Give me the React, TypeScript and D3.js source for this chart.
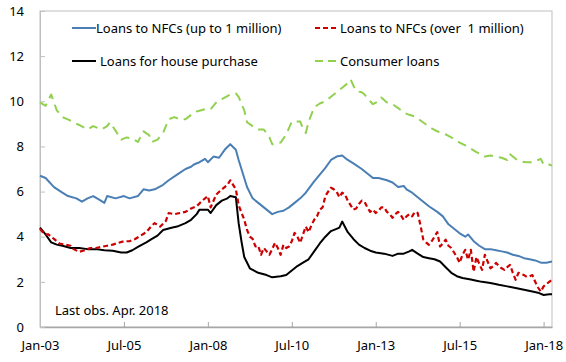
import * as d3 from "d3";
import React, { useEffect, useRef } from "react";

// months since Jan-03 and rates (%)
const smeMonths = [0, 2, 5, 8, 10, 13, 15, 17, 19, 21, 23, 24, 27, 30, 32, 35, 37, 39, 41, 44, 46, 49, 52, 54, 55, 57, 59, 60, 62, 64, 66, 68, 70, 71, 72, 74, 76, 78, 80, 83, 85, 87, 89, 91, 93, 95, 98, 100, 102, 104, 106, 108, 110, 112, 115, 117, 119, 121, 124, 126, 128, 130, 131, 133, 136, 139, 142, 144, 146, 148, 150, 152, 153, 155, 157, 159, 161, 163, 165, 167, 169, 171, 173, 175, 177, 179, 181, 183];
const smeValues = [6.7, 6.6, 6.2, 5.95, 5.8, 5.7, 5.55, 5.7, 5.8, 5.65, 5.5, 5.8, 5.7, 5.8, 5.7, 5.8, 6.1, 6.05, 6.1, 6.3, 6.5, 6.75, 7.0, 7.1, 7.2, 7.3, 7.45, 7.3, 7.55, 7.5, 7.85, 8.1, 7.85, 7.4, 7.0, 6.2, 5.7, 5.5, 5.3, 5.0, 5.1, 5.15, 5.3, 5.5, 5.7, 5.95, 6.45, 6.75, 7.05, 7.4, 7.55, 7.6, 7.4, 7.25, 7.0, 6.8, 6.6, 6.6, 6.5, 6.4, 6.2, 6.25, 6.1, 5.95, 5.65, 5.35, 5.1, 4.9, 4.55, 4.35, 4.15, 4.0, 4.1, 3.8, 3.6, 3.45, 3.45, 3.4, 3.35, 3.3, 3.2, 3.15, 3.05, 3.0, 2.95, 2.85, 2.85, 2.9];

const largeMonths = [0, 1, 2, 3, 5, 7, 9, 11, 12, 14, 16, 18, 20, 22, 24, 26, 28, 30, 32, 34, 36, 38, 40, 41, 43, 45, 46, 48, 50, 52, 54, 56, 58, 60, 61, 63, 65, 66, 67, 68, 70, 71, 73, 74, 75, 76, 77, 78, 79, 80, 81, 82, 83, 84, 85, 86, 87, 88, 89, 90, 91, 92, 93, 94, 95, 96, 97, 98, 99, 100, 101, 102, 103, 104, 105, 106, 107, 108, 109, 110, 111, 112, 113, 114, 115, 116, 117, 118, 119, 120, 121, 122, 123, 124, 125, 126, 127, 128, 129, 130, 131, 132, 133, 134, 135, 136, 137, 138, 139, 140, 141, 142, 143, 144, 145, 146, 147, 148, 149, 150, 151, 152, 153, 154, 155, 156, 157, 158, 159, 160, 161, 162, 163, 164, 165, 166, 167, 168, 169, 170, 171, 172, 173, 174, 175, 176, 177, 178, 179, 180, 181, 182, 183];
const largeValues = [4.35, 4.2, 4.1, 4.1, 3.9, 3.7, 3.65, 3.6, 3.45, 3.33, 3.4, 3.5, 3.5, 3.55, 3.6, 3.65, 3.73, 3.8, 3.8, 3.9, 4.05, 4.2, 4.5, 4.6, 4.45, 4.7, 5.05, 5.0, 5.05, 5.1, 5.25, 5.35, 5.6, 5.8, 5.3, 5.87, 6.1, 6.2, 6.3, 6.5, 6.1, 5.4, 4.75, 4.3, 4.0, 3.9, 3.57, 3.6, 3.2, 3.5, 3.35, 3.2, 3.45, 3.73, 3.5, 3.2, 3.64, 3.5, 3.57, 3.8, 4.17, 4.0, 3.73, 4.1, 4.45, 4.2, 4.5, 4.75, 4.9, 5.2, 5.3, 5.8, 6.0, 6.17, 6.1, 6.0, 5.75, 5.95, 5.87, 5.6, 5.4, 5.2, 5.25, 5.45, 5.6, 5.55, 5.3, 5.1, 5.2, 5.05, 5.15, 5.3, 5.3, 5.1, 5.0, 4.84, 5.0, 5.1, 4.95, 4.75, 4.9, 5.0, 4.9, 5.1, 5.05, 4.5, 3.87, 3.75, 3.64, 3.8, 4.0, 4.2, 3.57, 3.7, 3.87, 3.6, 3.5, 3.3, 3.1, 2.84, 3.2, 3.42, 2.98, 3.42, 2.45, 3.1, 2.8, 2.53, 3.2, 2.9, 2.6, 2.7, 2.84, 2.7, 2.6, 2.53, 2.65, 2.75, 2.4, 2.09, 2.4, 2.35, 2.3, 2.22, 2.25, 2.3, 2.0, 1.75, 1.57, 1.8, 1.9, 2.0, 2.09];

const houseMonths = [0, 2, 4, 6, 8, 11, 14, 17, 20, 23, 26, 29, 31, 33, 35, 38, 40, 42, 44, 47, 49, 52, 54, 56, 57, 60, 61, 63, 65, 67, 68, 70, 71, 72, 73, 75, 78, 81, 83, 86, 88, 90, 92, 94, 96, 98, 100, 102, 104, 106, 107, 108, 110, 112, 114, 116, 118, 120, 123, 126, 128, 130, 132, 133, 135, 137, 139, 141, 143, 145, 147, 149, 151, 154, 156, 158, 161, 164, 167, 170, 173, 176, 178, 180, 182, 183];
const houseValues = [4.4, 4.1, 3.75, 3.65, 3.6, 3.5, 3.5, 3.45, 3.45, 3.4, 3.38, 3.3, 3.3, 3.4, 3.55, 3.75, 3.9, 4.05, 4.3, 4.4, 4.45, 4.6, 4.75, 5.0, 5.2, 5.2, 5.05, 5.4, 5.6, 5.7, 5.8, 5.75, 4.6, 3.8, 3.1, 2.6, 2.4, 2.3, 2.2, 2.25, 2.3, 2.5, 2.7, 2.85, 3.0, 3.35, 3.7, 4.0, 4.25, 4.35, 4.4, 4.67, 4.2, 3.9, 3.65, 3.5, 3.38, 3.3, 3.25, 3.15, 3.25, 3.25, 3.35, 3.42, 3.25, 3.1, 3.05, 3.0, 2.9, 2.65, 2.4, 2.25, 2.17, 2.1, 2.05, 2.0, 1.95, 1.87, 1.8, 1.73, 1.65, 1.57, 1.52, 1.42, 1.45, 1.45];

const consumerMonths = [0, 2, 4, 6, 8, 10, 12, 14, 17, 19, 22, 24, 25, 27, 29, 31, 33, 35, 37, 39, 40, 42, 44, 46, 48, 50, 52, 54, 56, 59, 61, 63, 65, 68, 70, 71, 73, 74, 76, 78, 80, 82, 83, 85, 86, 88, 90, 93, 94, 95, 96, 98, 100, 102, 104, 105, 107, 108, 110, 111, 112, 113, 115, 116, 118, 119, 121, 122, 124, 126, 128, 130, 132, 134, 136, 138, 140, 142, 145, 147, 150, 152, 154, 156, 159, 161, 163, 165, 167, 168, 170, 172, 174, 176, 178, 179, 180, 182, 183];
const consumerValues = [9.95, 9.8, 10.3, 9.6, 9.3, 9.2, 9.07, 8.95, 8.75, 8.9, 8.75, 8.9, 9.07, 8.7, 8.3, 8.4, 8.35, 8.2, 8.67, 8.5, 8.2, 8.3, 8.6, 9.2, 9.3, 9.2, 9.2, 9.4, 9.55, 9.65, 9.65, 9.95, 10.1, 10.3, 10.35, 10.2, 9.6, 9.07, 8.9, 8.75, 8.75, 8.4, 8.1, 8.15, 8.17, 8.53, 9.1, 9.1, 8.8, 8.6, 9.1, 9.73, 9.9, 10.0, 10.2, 10.3, 10.5, 10.6, 10.8, 10.97, 10.7, 10.45, 10.4, 10.3, 10.0, 9.87, 10.0, 10.17, 9.95, 9.87, 9.7, 9.5, 9.4, 9.33, 9.15, 8.97, 8.8, 8.67, 8.53, 8.4, 8.17, 8.05, 7.9, 7.75, 7.55, 7.6, 7.55, 7.5, 7.4, 7.65, 7.45, 7.33, 7.3, 7.3, 7.4, 7.45, 7.2, 7.2, 7.15];

const tickMonths = [0, 30, 60, 90, 120, 150, 180];
const tickLabels = ["Jan-03", "Jul-05", "Jan-08", "Jul-10", "Jan-13", "Jul-15", "Jan-18"];
const yTicks = [0, 2, 4, 6, 8, 10, 12, 14];

const FONT = "'Noto Sans', 'Open Sans', sans-serif";

const App: React.FC = () => {
  const ref = useRef<SVGSVGElement>(null);

  useEffect(() => {
    const width = 566;
    const height = 362;
    const margin = { top: 11, right: 14, bottom: 35, left: 40 };

    d3.select(ref.current).selectAll("*").remove();
    const svg = d3.select(ref.current)
      .attr("width", width)
      .attr("height", height);

    const x = d3.scaleLinear()
      .domain([0, 183])
      .range([margin.left, width - margin.right]);

    const y = d3.scaleLinear()
      .domain([0, 14])
      .range([height - margin.bottom, margin.top]);

    // Plot frame
    svg.append("rect")
      .attr("x", margin.left)
      .attr("y", margin.top)
      .attr("width", width - margin.right - margin.left)
      .attr("height", height - margin.bottom - margin.top)
      .attr("fill", "none")
      .attr("stroke", "#bfbfbf")
      .attr("stroke-width", 1);

    // x axis (ticks pointing into the plot)
    const xAxis = svg.append("g")
      .attr("transform", `translate(0,${height - margin.bottom})`)
      .call(
        d3.axisBottom(x)
          .tickValues(tickMonths)
          .tickFormat((_, i) => tickLabels[i])
          .tickSizeInner(-5)
          .tickSizeOuter(0)
          .tickPadding(14)
      );
    xAxis.select(".domain").attr("stroke", "#a6a6a6").attr("stroke-width", 1.5);
    xAxis.selectAll(".tick line").attr("stroke", "#a6a6a6");
    xAxis.selectAll("text")
      .attr("fill", "#000")
      .style("font-family", FONT)
      .style("font-size", "13px");

    // y axis
    const yAxis = svg.append("g")
      .attr("transform", `translate(${margin.left},0)`)
      .call(
        d3.axisLeft(y)
          .tickValues(yTicks)
          .tickSizeInner(-5)
          .tickSizeOuter(0)
          .tickPadding(16)
      );
    yAxis.select(".domain").attr("stroke", "#bfbfbf");
    yAxis.selectAll(".tick line").attr("stroke", "#bfbfbf");
    yAxis.selectAll("text")
      .attr("fill", "#000")
      .style("font-family", FONT)
      .style("font-size", "13px");

    const series = [
      { months: smeMonths, values: smeValues, color: "#4a7fb5", dash: null, width: 2 },
      { months: houseMonths, values: houseValues, color: "#000000", dash: null, width: 2 },
      { months: consumerMonths, values: consumerValues, color: "#92d050", dash: "9,6", width: 2 },
      { months: largeMonths, values: largeValues, color: "#cc0000", dash: "5,3", width: 2.2 },
    ];

    const line = d3.line<[number, number]>()
      .x((d) => x(d[0]))
      .y((d) => y(d[1]));

    series.forEach((s) => {
      const pts = s.months.map((m, i) => [m, s.values[i]] as [number, number]);
      svg.append("path")
        .datum(pts)
        .attr("d", line)
        .attr("fill", "none")
        .attr("stroke", s.color)
        .attr("stroke-width", s.width)
        .attr("stroke-linejoin", "round")
        .attr("stroke-dasharray", s.dash);
    });

    // Legend
    const legend = [
      { label: "Loans to NFCs (up to 1 million)", color: "#4a7fb5", dash: null, x: 72, y: 28, tx: 96 },
      { label: "Loans to NFCs (over  1 million)", color: "#cc0000", dash: "5,3", x: 315, y: 28, tx: 340 },
      { label: "Loans for house purchase", color: "#000000", dash: null, x: 72, y: 61, tx: 100 },
      { label: "Consumer loans", color: "#92d050", dash: "8,5", x: 315, y: 61, tx: 340 },
    ];
    const lg = svg.append("g");
    legend.forEach((l) => {
      lg.append("line")
        .attr("x1", l.x)
        .attr("x2", l.x + 24)
        .attr("y1", l.y)
        .attr("y2", l.y)
        .attr("stroke", l.color)
        .attr("stroke-width", 2)
        .attr("stroke-dasharray", l.dash);
      lg.append("text")
        .attr("x", l.tx)
        .attr("y", l.y)
        .attr("dy", "0.35em")
        .style("font-family", FONT)
        .style("font-size", "13px")
        .style("white-space", "pre")
        .text(l.label);
    });

    // Note
    svg.append("text")
      .attr("x", 55)
      .attr("y", 315)
      .style("font-family", FONT)
      .style("font-size", "13px")
      .text("Last obs. Apr. 2018");
  }, []);

  return (
    <svg ref={ref} style={{ position: "absolute", left: 0, top: 0, background: "#fff" }}></svg>
  );
};

export default App;
